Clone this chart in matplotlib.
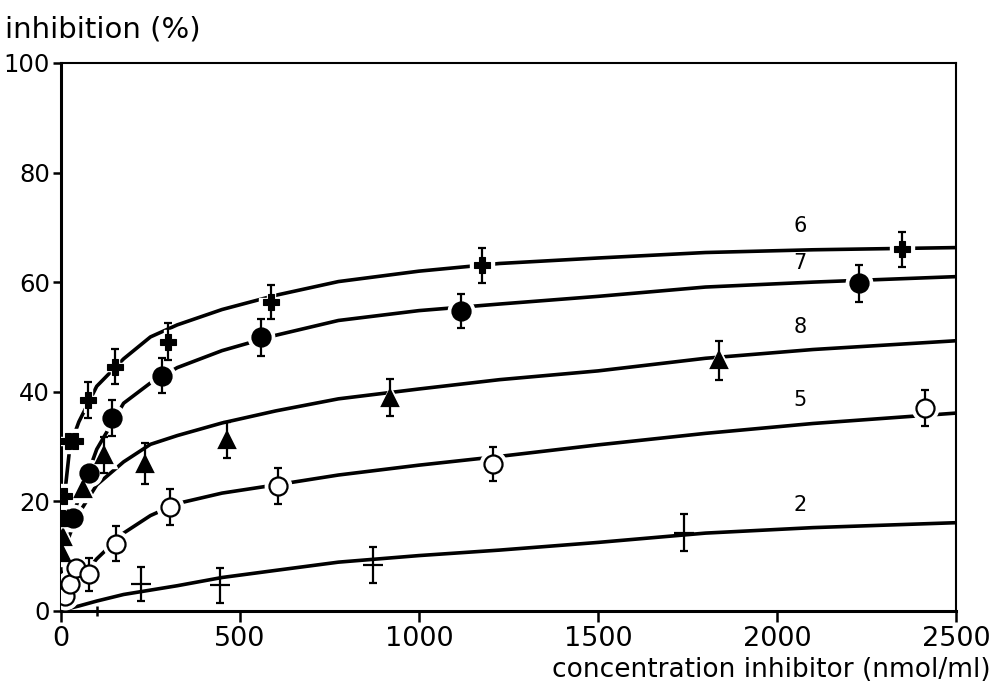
import numpy as np
from matplotlib import pyplot as plt

x6 = [3, 8, 19, 38, 76, 151, 298, 588, 1177, 2348]
y6 = [17.0, 21.0, 31.0, 31.0, 38.5, 44.6, 49.1, 56.4, 63.1, 66.0]
e6 = [0, 0, 0, 0, 3.3, 3.2, 3.4, 3.1, 3.2, 3.2]

x7 = [35, 79, 142, 281, 560, 1116, 2230]
y7 = [17.0, 25.1, 35.2, 42.9, 49.9, 54.7, 59.8]
e7 = [0, 0, 3.3, 3.2, 3.3, 3.1, 3.4]

x8 = [4, 6, 20, 62, 121, 235, 465, 920, 1839]
y8 = [10.6, 13.5, 16.9, 22.2, 28.4, 26.9, 31.2, 38.9, 45.7]
e8 = [0, 0, 0, 0, 3.3, 3.7, 3.3, 3.4, 3.6]

x5 = [11, 25, 42, 79, 155, 304, 605, 1208, 2413]
y5 = [2.8, 5.0, 7.8, 6.7, 12.3, 19.0, 22.8, 26.8, 37.0]
e5 = [0, 0, 0, 3.0, 3.2, 3.3, 3.2, 3.1, 3.3]

x2 = [225, 444, 872, 1740]
y2 = [5.0, 4.7, 8.4, 14.3]
e2 = [3.1, 3.2, 3.3, 3.3]

# fitted curves
xc = [0, 25, 50, 100, 175, 250, 325, 450, 600, 775, 1000, 1225, 1500, 1800, 2100, 2500]
c6 = [15, 30, 34.5, 41, 46, 50, 52.2, 55, 57.6, 60.1, 62.0, 63.4, 64.4, 65.4, 65.9, 66.3]
c7 = [12, 16, 20.5, 29.5, 37.9, 41.6, 44.4, 47.5, 50.3, 53.0, 54.8, 56.0, 57.4, 59.1, 60.0, 61.0]
c8 = [9, 14, 17.8, 23, 27.2, 30.4, 32.0, 34.3, 36.5, 38.7, 40.5, 42.2, 43.8, 46.1, 47.7, 49.3]
c5 = [0.5, 3.5, 5.5, 9.5, 14.2, 17.4, 19.6, 21.5, 23.0, 24.8, 26.6, 28.2, 30.3, 32.4, 34.2, 36.1]
c2 = [0, 0.5, 0.9, 1.8, 3.0, 3.8, 4.6, 6.1, 7.4, 8.9, 10.1, 11.1, 12.5, 14.2, 15.2, 16.1]

labels = ["6", "7", "8", "5", "2"]
label_x = [2064, 2064, 2064, 2064, 2064]
label_y = [68.4, 61.7, 49.9, 36.7, 17.5]

fig = plt.figure(figsize=(9.99, 6.99), dpi=100)
ax = fig.add_axes([0.061, 0.126, 0.896, 0.784])

for c in [c6, c7, c8, c5, c2]:
    ax.plot(xc, c, color="black", linewidth=2.6, zorder=2)

# white halos so the curves break around the symbols
def points(x, y, e, marker, ms, mfc, mew=1.6):
    ax.plot(x, y, linestyle="none", marker=marker, markersize=ms + 6,
            color="white", zorder=3)
    ax.errorbar(x, y, yerr=e, fmt="none", ecolor="black", elinewidth=1.6,
                capsize=3, capthick=1.6, zorder=4)
    ax.plot(x, y, linestyle="none", marker=marker, markersize=ms,
            markerfacecolor=mfc, markeredgecolor="black", markeredgewidth=mew,
            zorder=5)

points(x6, y6, e6, "P", 11, "black", 0.8)
points(x7, y7, e7, "o", 13, "black")
points(x8, y8, e8, "^", 12, "black")
points(x5, y5, e5, "o", 13, "white")
ax.errorbar(x2, y2, yerr=e2, fmt="_", color="black", markersize=14,
            markeredgewidth=1.6, elinewidth=1.6, capsize=3, capthick=1.6, zorder=4)

for t, lx, ly in zip(labels, label_x, label_y):
    ax.text(lx, ly, t, fontsize=15, ha="center", va="bottom")

ax.set_xlim(0, 2500)
ax.set_ylim(0, 100)
ax.set_xticks([0, 500, 1000, 1500, 2000, 2500])
ax.set_xticks([100], minor=True)
ax.set_yticks([0, 20, 40, 60, 80, 100])
ax.tick_params(axis="x", labelsize=19.5, width=1.8, length=8, direction="out", pad=3)
ax.tick_params(axis="y", labelsize=17.5, width=1.8, length=6, direction="out", pad=2)
ax.tick_params(axis="x", which="minor", width=1.8, length=7, direction="inout")
ax.spines["left"].set_linewidth(2.2)
ax.spines["bottom"].set_linewidth(2.2)
ax.spines["top"].set_linewidth(1.5)
ax.spines["right"].set_linewidth(1.5)

fig.text(0.005, 0.958, "inhibition (%)", fontsize=21, ha="left", va="center")
fig.text(0.992, 0.042, "concentration inhibitor (nmol/ml)", fontsize=19,
         ha="right", va="center")

plt.savefig("out.png", dpi=100)
